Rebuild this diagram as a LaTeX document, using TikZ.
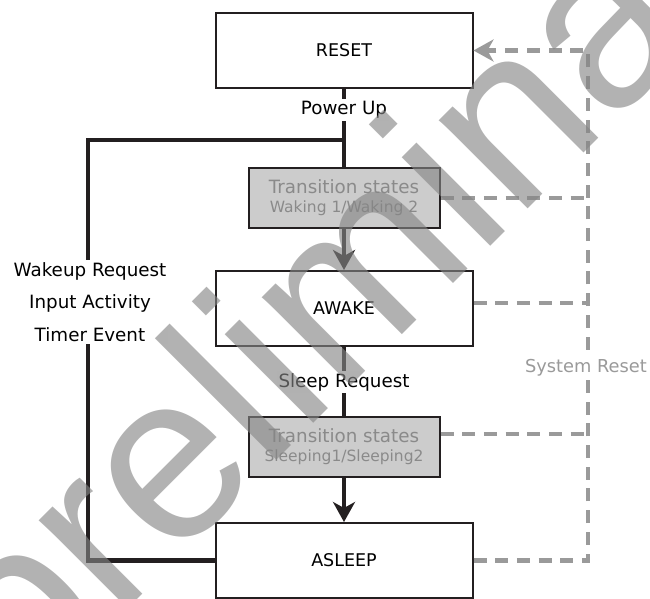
\documentclass[tikz,border=0pt]{standalone}
\usepackage{fontspec}
\setmainfont{DejaVu Sans}
\newfontfamily\wmfont{Liberation Sans}
\usetikzlibrary{arrows.meta}
\definecolor{ink}{HTML}{231F20}
\definecolor{tfill}{HTML}{CCCCCC}
\definecolor{ttext}{HTML}{8A8A8A}
\definecolor{dashc}{HTML}{9A9A9A}
\begin{document}
\begin{tikzpicture}[x=1pt,y=-1pt,
  statebox/.style={draw=ink, line width=2pt, fill=white, minimum width=257pt, minimum height=75pt, inner sep=0pt, font=\fontsize{17.5}{20}\selectfont, text=black},
  transbox/.style={draw=ink, line width=2pt, fill=tfill, minimum width=191pt, minimum height=60pt, inner sep=0pt, text=ttext, align=center, font=\fontsize{15.5}{19}\selectfont},
  flow/.style={draw=ink, line width=4.5pt, line join=miter},
  tip/.style={-{Stealth[length=20pt,width=22pt,inset=6pt]}},
  sysline/.style={draw=dashc, line width=4.5pt, dash pattern=on 13pt off 8.7pt},
  lbl/.style={fill=white, inner sep=2pt, font=\fontsize{18.3}{20}\selectfont},
  watermark/.style={rotate=45, anchor=base west, inner sep=0pt, text=black!48, text opacity=0.63, font=\wmfont\fontsize{237}{240}\selectfont}
]
\useasboundingbox (0,0) rectangle (650,599);

% states
\node[statebox] (reset) at (344,50.5) {RESET};
\node[transbox] (waking) at (344,198) {\rule{0pt}{4pt}{\fontsize{18.3}{19}\selectfont Transition states}\\Waking 1/Waking 2};
\node[statebox] (awake) at (344,308.5) {AWAKE};
\node[transbox] (sleeping) at (344,447) {\rule{0pt}{4pt}{\fontsize{18.3}{19}\selectfont Transition states}\\Sleeping1/Sleeping2};
\node[statebox] (asleep) at (344,560.5) {ASLEEP};

% main flow
\draw[flow] (reset) -- (waking);
\draw[flow,tip] (waking) -- (awake);
\draw[flow] (awake) -- (sleeping);
\draw[flow,tip] (sleeping) -- (asleep);

% wake-up loop
\coordinate (loopbl) at (88,560.5);
\coordinate (looptl) at (88,140);
\coordinate (loopjoin) at (344,140);
\draw[flow] (asleep.west) -- (loopbl) -- (looptl) -- (loopjoin);

% system reset bus
\coordinate (bustop) at (588,50.5);
\coordinate (busbot) at (588,560.5);
\coordinate (tapwaking) at (588,198);
\coordinate (tapawake) at (588,303);
\coordinate (tapsleeping) at (588,434);
\draw[sysline,tip] (asleep.east) -- (busbot) -- (bustop) -- (reset.east);
\draw[sysline] (waking.east) -- (tapwaking);
\draw[sysline] ([yshift=5.5pt]awake.east) -- (tapawake);
\draw[sysline] ([yshift=13pt]sleeping.east) -- (tapsleeping);

% labels
\node[lbl] (powerup) at (344,110) {Power Up};
\node[lbl] (sleepreq) at (344,382) {Sleep Request};
\node[lbl, align=center, font=\fontsize{18.3}{32.5}\selectfont] (wakereasons) at (90,302) {Wakeup Request\\Input Activity\\Timer Event};
\node[lbl, text=dashc, font=\fontsize{17.8}{20}\selectfont] (sysreset) at (586,368) {System Reset};

% watermark
\begin{scope}
\clip (0,0) rectangle (650,599);
\node[watermark] (wm) at (23,714) {preliminary};
\end{scope}
\end{tikzpicture}
\end{document}
